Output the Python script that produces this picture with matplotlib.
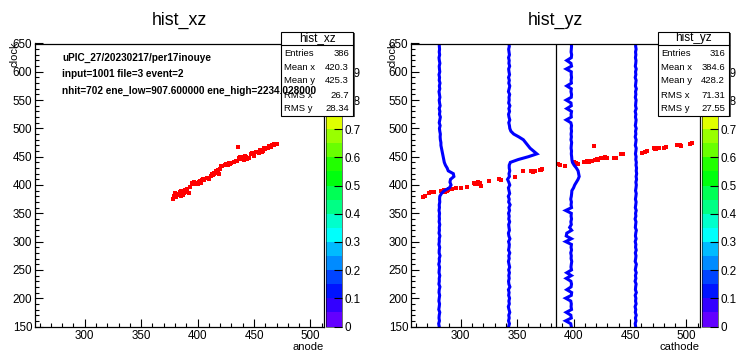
import colorsys
import numpy as np
import matplotlib
matplotlib.use("Agg")
import matplotlib.pyplot as plt
from matplotlib.colors import ListedColormap, BoundaryNorm
from matplotlib.cm import ScalarMappable
from matplotlib.patches import Rectangle
from matplotlib.ticker import MultipleLocator

plt.rcParams['font.family'] = ['Liberation Sans', 'DejaVu Sans']

# ---- data ----
# hist_xz hits (anode, clock)
xz_anode = [378, 379, 380, 381, 382, 383, 384, 385, 385, 386, 387, 388, 388, 389, 390,
            391, 392, 393, 395, 396, 397, 398, 399, 400, 401, 402, 403, 404, 405, 406,
            408, 410, 412, 413, 414, 415, 416, 417, 418, 419, 420, 421, 422, 424, 425,
            426, 427, 428, 429, 430, 432, 434, 435, 436, 437, 438, 439, 440, 441, 442,
            443, 444, 446, 447, 448, 450, 452, 454, 455, 456, 457, 458, 459, 460, 462,
            463, 464, 466, 467, 468, 469, 470,
            386, 387, 389, 390, 399, 400, 401, 414, 415, 425, 437, 438, 439, 448, 456,
            465, 468]
xz_clock = [375, 380, 386, 378, 382, 384, 387, 381, 389, 388, 383, 390, 386, 391, 389,
            393, 385, 396, 404, 401, 405, 403, 404, 401, 405, 407, 403, 409, 411, 408,
            412, 410, 416, 419, 418, 421, 424, 422, 426, 420, 428, 434, 433, 436, 435,
            437, 436, 439, 437, 438, 440, 443, 442, 468, 448, 446, 450, 447, 444, 452,
            449, 446, 448, 454, 456, 452, 459, 457, 462, 460, 458, 460, 466, 463, 465,
            469, 467, 471, 470, 473, 472, 472,
            386, 389, 387, 391, 402, 403, 403, 417, 420, 437, 446, 449, 448, 455, 462,
            468, 471]

# hist_yz hits (cathode, clock)
yz_cathode = [267, 268, 272, 274, 276, 283, 284, 285, 286, 287, 288, 289, 290, 292, 296,
              300, 306, 312, 314, 315, 316, 317, 318, 325, 334, 336, 348, 355, 362, 364,
              366, 370, 372, 386, 388, 392, 400, 402, 404, 409, 411, 412, 413, 414, 415,
              416, 418, 419, 420, 421, 422, 424, 426, 428, 430, 436, 438, 442, 444, 461,
              463, 465, 471, 473, 474, 476, 480, 482, 492, 494, 495, 503, 505,
              285, 286, 288, 313, 315, 365, 371, 412, 414, 421, 427, 472]
yz_clock = [378, 381, 386, 388, 387, 389, 390, 391, 388, 390, 392, 391, 393, 393, 394,
            395, 397, 403, 404, 405, 402, 404, 398, 407, 410, 409, 414, 425, 424, 423,
            425, 427, 428, 437, 436, 434, 440, 439, 437, 440, 441, 442, 441, 440, 443,
            442, 469, 444, 445, 445, 444, 448, 447, 449, 448, 447, 448, 455, 454, 457,
            458, 460, 465, 464, 466, 465, 466, 468, 470, 471, 469, 473, 474,
            389, 392, 389, 402, 403, 425, 426, 440, 442, 446, 447, 463]

# waveform traces drawn over hist_yz, sampled every 5 clocks
trace_clock = list(range(150, 651, 5))
trace1 = [281, 280.5, 281.2, 280.8, 281, 281.5, 280.6, 281, 281.3, 280.7,
          281, 281.4, 280.8, 281, 281.6, 280.7, 281.1, 281, 281.5, 280.8,
          281, 281.3, 280.6, 281.2, 281, 281.7, 280.9, 281, 281.4, 280.7,
          281.1, 281, 281.6, 280.8, 281.2, 281, 281.5, 280.9, 281.2, 281,
          281.3, 280.8, 281.2, 281.0, 281.5, 281.3,
          281.5, 283, 285.5, 290, 291.5, 290.5, 291, 294, 293.5, 289, 288, 286.5,
          285.5, 285, 284.5, 284, 283.5, 283, 282.5, 282.5, 282, 281.8, 282, 281.5,
          281.2, 281.8, 281, 281.5, 282, 281.2, 281.6, 281, 281.8, 281.3,
          281, 281.6, 281.2, 280.8, 281.5, 281.1, 281.7, 281, 281.3, 280.8,
          281.5, 281.2, 281, 281.6, 281.1, 280.8, 281.4, 281, 281.3, 281.1, 281]
trace2 = [342.5, 343.2, 342.4, 343, 342.6, 343.5, 342.8, 342.2, 343.1, 342.7,
          343.3, 342.5, 342.9, 342.3, 343.6, 342.7, 342.4, 343, 342.6, 343.2,
          342.5, 343.4, 342.8, 342.3, 343, 342.6, 343.5, 342.4, 342.9, 343.1,
          342.4, 343.6, 342.7, 342.3, 343.2, 342.8, 342.5, 343.4, 342.6, 343,
          342.4, 343.3, 342.7, 343.8, 342.5, 343, 342.2, 343.4, 342.8, 342.3,
          343.5, 342.6, 341.5, 343.2, 342.8, 343.5, 343,
          343, 344, 351, 360, 367.5, 364.5, 361.5, 359.5, 357.5, 355.5, 351.5, 347, 344.5, 343.5,
          343.2, 342.6, 343.5, 342.8, 342.4, 343.3, 342.7, 343.6, 342.5, 343,
          342.8, 343.4, 342.3, 342.9, 343.5, 342.6, 343.1, 342.4, 343.3, 342.8,
          342.5, 343.4, 342.7, 343, 342.4, 343.2, 342.8, 342.5, 343.1, 342.7]
trace3 = [398, 397.5, 393, 398, 397.6, 393.5, 398.2, 397.8, 398, 397.5,
          393, 398, 398.3, 394, 397.8, 398.2, 397.6, 393.5, 398, 394,
          398.2, 397.7, 398, 398.4, 397.8, 398, 397.5, 398.2, 397.8, 398.1,
          393, 398, 393.5, 394, 398.3, 396.5, 398, 397.6, 398.2, 397.8,
          398, 393, 398.2, 397.8, 398.1, 397.5, 398, 398.3, 398.5, 400,
          401, 402.5, 404, 405, 404.5, 404, 402.5, 400.5, 399, 398.5,
          398.3, 398, 398.2, 397.8, 398, 398.3, 397.7, 398.1, 397.8, 398.2,
          397.9, 398.2, 397.6, 393.5, 398, 397.8, 398.2, 394, 398, 397.7,
          393.5, 398, 398.2, 397.7, 398, 394, 398.1, 397.8, 398.2, 397.9,
          398, 393.5, 398.2, 397.7, 394, 398, 398.3, 397.8, 398, 398.2, 398]
trace4 = [455, 454.6, 455.3, 454.8, 455.5, 454.7, 455.1, 454.5, 455.4, 454.9,
          455.2, 454.6, 455.6, 454.8, 455, 455.4, 454.5, 455.2, 454.8, 455.5,
          454.7, 455.1, 455.6, 454.6, 455, 455.3, 454.7, 455.5, 454.9, 455.2,
          454.6, 455.4, 454.8, 455.1, 455.6, 454.7, 455, 455.3, 454.5, 455.2,
          454.9, 455.5, 454.7, 455.1, 455.4, 454.8, 455.2, 455.5, 454.9, 455.3,
          455.6, 455.2, 455.8, 455.4, 455.9, 455.5, 455.8, 455.3, 455.6, 455.1,
          455.4, 454.8, 455.2, 455.5, 454.7, 455.1, 455.4, 454.6, 455.2, 454.9,
          455.5, 454.7, 455.1, 455.4, 454.8, 455.2, 454.6, 455.5, 454.9, 455.1,
          455.4, 454.7, 455.2, 454.9, 455.6, 454.8, 455.1, 455.4, 454.6, 455.2,
          454.9, 455.5, 454.7, 455.1, 455.3, 454.8, 455.2, 454.9, 455.4, 455, 455]
yz_marker = 384

xz_stats = ["386", "420.3", "425.3", "26.7", "28.34"]
yz_stats = ["316", "384.6", "428.2", "71.31", "27.55"]
stat_names = ["Entries", "Mean x", "Mean y", "RMS x", "RMS y"]
info_lines = ["uPIC_27/20230217/per17inouye",
              "input=1001 file=3 event=2",
              "nhit=702 ene_low=907.600000 ene_high=2234.028000"]
cb_ticks = [0, 0.1, 0.2, 0.3, 0.4, 0.5, 0.6, 0.7, 0.8, 0.9, 1]
cb_labels = ["0", "0.1", "0.2", "0.3", "0.4", "0.5", "0.6", "0.7", "0.8", "0.9", "1"]

# ---- ROOT-ish "pretty" palette, 20 contours ----
pal = []
for k in range(20):
    i = int((k + 0.99) * 50 / 20)
    hue = 280 - (i + 1) * 280 / 50
    pal.append(colorsys.hls_to_rgb(hue / 360, 0.5, 1.0))
cmap = ListedColormap(pal)
norm = BoundaryNorm(np.linspace(0, 1, 21), 20)

W, H = 739, 352
fig = plt.figure(figsize=(W / 100, H / 100), dpi=100)


def px(x0, x1, ytop, ybot):
    return [x0 / W, 1 - ybot / H, (x1 - x0) / W, (ybot - ytop) / H]


def fx(x):
    return x / W


def fy(y):
    return 1 - y / H


def panel(xl, xr, title, xlabel, clock_x):
    ax = fig.add_axes(px(xl, xr, 43.5, 326.5))
    ax.set_xlim(256, 512)
    ax.set_ylim(150, 650)
    ax.xaxis.set_major_locator(MultipleLocator(50))
    ax.xaxis.set_minor_locator(MultipleLocator(10))
    ax.yaxis.set_major_locator(MultipleLocator(50))
    ax.yaxis.set_minor_locator(MultipleLocator(10))
    ax.tick_params(which='both', direction='in', top=False, right=False,
                   labelsize=8.4, width=0.8)
    ax.tick_params(which='major', length=5.8)
    ax.tick_params(which='minor', length=2.9)
    ax.tick_params(axis='x', pad=2.5)
    ax.tick_params(axis='y', pad=2)
    for s in ax.spines.values():
        s.set_linewidth(0.9)
    # colorbar
    cax = fig.add_axes(px(xr + 1.5, xr + 18, 44.5, 326.5))
    cb = fig.colorbar(ScalarMappable(norm=norm, cmap=cmap), cax=cax)
    cb.outline.set_linewidth(0.4)
    cb.set_ticks(cb_ticks)
    cb.set_ticklabels(cb_labels)
    cax.tick_params(direction='in', length=5.8, width=0.8, labelsize=8.4, pad=1.5)
    cax.minorticks_off()
    fig.text(fx((xl + xr) / 2), fy(20), title, ha='center', va='center', fontsize=12.8)
    fig.text(fx(xr), fy(347), xlabel, ha='right', va='center', fontsize=8)
    fig.text(fx(clock_x), fy(41), "clock", rotation=90, ha='center', va='top', fontsize=8)
    return ax


def stats(x0, x1, name, values):
    y0, y1, ysep = 31.7, 116, 45
    fig.add_artist(Rectangle((fx(x0 + 1.5), fy(y1 + 1.5)), (x1 - x0) / W, (y1 - y0) / H,
                             transform=fig.transFigure, facecolor='#555555',
                             edgecolor='none', zorder=4))
    fig.add_artist(Rectangle((fx(x0), fy(y1)), (x1 - x0) / W, (y1 - y0) / H,
                             transform=fig.transFigure, facecolor='white',
                             edgecolor='black', linewidth=0.8, zorder=4.1))
    fig.add_artist(plt.Line2D([fx(x0), fx(x1)], [fy(ysep), fy(ysep)],
                              transform=fig.transFigure, color='black', lw=0.8, zorder=4.2))
    fig.text(fx((x0 + x1) / 2), fy(38.5), name, ha='center', va='center',
             fontsize=8.5, zorder=4.3)
    for lab, val, yy in zip(stat_names, values, [53.3, 67.7, 80.3, 96, 109]):
        fig.text(fx(x0 + 3), fy(yy), lab, ha='left', va='center', fontsize=6.8, zorder=4.3)
        fig.text(fx(x1 - 4), fy(yy), val, ha='right', va='center', fontsize=6.8, zorder=4.3)


# left: hist_xz
ax1 = panel(35, 324, "hist_xz", "anode", 14.5)
ax1.scatter(xz_anode, xz_clock, marker='s', s=6, color='red', linewidths=0)
stats(281, 353, "hist_xz", xz_stats)
for line, yy in zip(info_lines, [57.7, 74.3, 90.7]):
    fig.text(fx(62), fy(yy), line, ha='left', va='center', fontsize=7.2,
             fontweight='bold', zorder=5)

# right: hist_yz
ax2 = panel(411, 700, "hist_yz", "cathode", 392)
ax2.scatter(yz_cathode, yz_clock, marker='s', s=6, color='red', linewidths=0)
for tr in [trace1, trace2, trace3, trace4]:
    ax2.plot(tr, trace_clock, color='#0000ff', lw=2.2, solid_joinstyle='miter')
ax2.axvline(yz_marker, color='black', lw=0.9)
stats(658, 729, "hist_yz", yz_stats)

fig.savefig("out.png", dpi=100)
